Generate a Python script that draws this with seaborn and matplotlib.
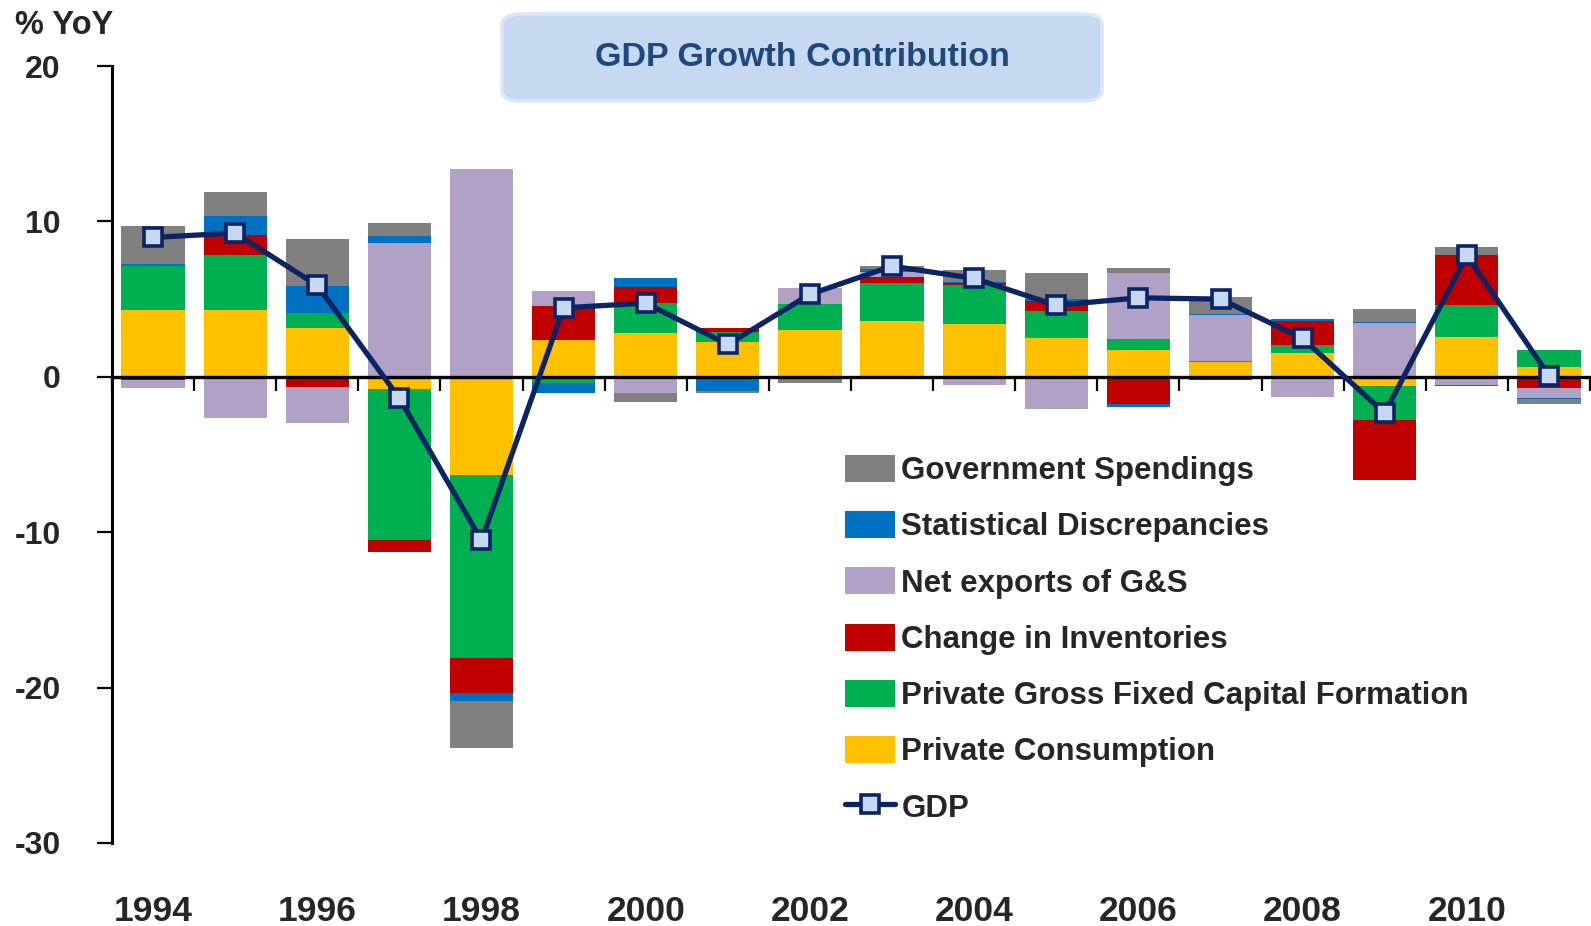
import numpy as np
import pandas as pd
import matplotlib
matplotlib.use("Agg")
import matplotlib.pyplot as plt
from matplotlib.patches import FancyBboxPatch, Patch
from matplotlib.lines import Line2D
import seaborn as sns

# ---- data: contributions to GDP growth, % YoY ----
years = list(range(1994, 2012))
private_consumption = [4.29, 4.29, 3.15, -0.77, -6.29, 2.34, 2.81, 2.23, 3.00, 3.58,
                       3.39, 2.48, 1.72, 0.94, 1.52, -0.62, 2.55, 0.64]
private_gfcf = [2.85, 3.56, 0.95, -9.76, -11.82, -0.43, 1.91, 0.63, 1.70, 2.43,
                2.51, 1.78, 0.71, 0.05, 0.52, -2.19, 2.04, 1.09]
inventories = [-0.21, 1.29, -0.66, -0.73, -2.25, 2.23, 1.07, 0.29, 0.00, 0.41,
               0.11, 0.64, -1.78, -0.19, 1.54, -3.82, 3.26, -0.71]
net_exports = [-0.52, -2.64, -2.30, 8.60, 13.35, 0.97, -1.05, -0.05, 0.99, 0.34,
               -0.53, -2.05, 4.24, 2.96, -1.29, 3.47, -0.51, -0.64]
stat_discrepancy = [0.13, 1.22, 1.76, 0.47, -0.52, -0.64, 0.56, -0.85, 0.05, 0.15,
                    0.10, 0.10, -0.15, 0.07, 0.13, 0.06, -0.05, -0.05]
gov_spending = [2.43, 1.53, 3.02, 0.82, -3.00, 0.00, -0.56, -0.13, -0.40, 0.21,
                0.76, 1.65, 0.35, 1.12, 0.00, 0.81, 0.50, -0.38]
gdp = [8.97, 9.25, 5.88, -1.38, -10.53, 4.44, 4.74, 2.08, 5.31, 7.12,
       6.33, 4.60, 5.08, 5.00, 2.47, -2.34, 7.81, 0.08]

series_names = ["Private Consumption", "Private Gross Fixed Capital Formation",
                "Change in Inventories", "Net exports of G&S",
                "Statistical Discrepancies", "Government Spendings"]
series_values = [private_consumption, private_gfcf, inventories, net_exports,
                 stat_discrepancy, gov_spending]
series_colors = ["#FFC000", "#00B050", "#C00000", "#B2A1C7", "#0070C0", "#808080"]
y_ticks = [20, 10, 0, -10, -20, -30]
x_label_years = years[::2]

sns.set_theme(style="white")
plt.rcParams["font.family"] = ["Liberation Sans", "DejaVu Sans"]
plt.rcParams["font.weight"] = "bold"

fig = plt.figure(figsize=(15.91, 9.26), dpi=100)
ax = fig.add_axes([112 / 1591, 1 - 843 / 926, 1478 / 1591, (843 - 66) / 926])

# stacked contributions: positives and negatives stack away from zero separately
x = np.arange(len(years))
pos_base = np.zeros(len(years))
neg_base = np.zeros(len(years))
for name, vals, col in zip(series_names, series_values, series_colors):
    v = np.asarray(vals, dtype=float)
    bottom = np.where(v >= 0, pos_base, neg_base)
    ax.bar(x, v, width=0.77, bottom=bottom, color=col, linewidth=0, zorder=1)
    pos_base += np.where(v >= 0, v, 0)
    neg_base += np.where(v < 0, v, 0)

gdp_df = pd.DataFrame({"x": x, "GDP": gdp})
sns.lineplot(data=gdp_df, x="x", y="GDP", ax=ax, color="#0C2463", linewidth=3.8,
             marker="s", markersize=13, markerfacecolor="#C6D9F1",
             markeredgecolor="#0C2463", markeredgewidth=2.6, zorder=4)

ax.set_xlim(-0.5, len(years) - 0.5)
ax.set_ylim(-30, 20)
ax.set_xlabel("")
ax.set_ylabel("")

# axis styling
for s in ["top", "right"]:
    ax.spines[s].set_visible(False)
ax.spines["left"].set_linewidth(2.2)
ax.spines["left"].set_color("black")
ax.spines["bottom"].set_position(("data", 0))
ax.spines["bottom"].set_linewidth(2.4)
ax.spines["bottom"].set_color("black")
ax.spines["bottom"].set_zorder(3)

ax.set_yticks(y_ticks)
ax.set_yticklabels([str(t) for t in y_ticks], fontsize=23, fontweight="bold")
ax.tick_params(axis="y", direction="out", length=11, width=1.6, color="black", pad=26,
               left=True)

boundaries = np.arange(len(years) + 1) - 0.5
ax.set_xticks(boundaries)
ax.set_xticklabels([])
ax.tick_params(axis="x", direction="out", length=10, width=1.6, color="black", bottom=True)

# year labels sit below the plot area
sec = ax.secondary_xaxis("bottom")
sec.set_xticks([years.index(y) for y in x_label_years])
sec.set_xticklabels([str(y) for y in x_label_years], fontsize=25.5, fontweight="bold")
sec.tick_params(axis="x", length=0, pad=37.5)
sec.spines["bottom"].set_visible(False)

# legend
handles = [Patch(facecolor=c, edgecolor="none") for c in series_colors][::-1]
labels = series_names[::-1]
handles.append(Line2D([0], [0], color="#0C2463", linewidth=3.8, marker="s", markersize=13,
                      markerfacecolor="#C6D9F1", markeredgecolor="#0C2463",
                      markeredgewidth=2.6))
labels.append("GDP")
fig.legend(handles, labels, loc="upper left", bbox_to_anchor=(845 / 1591, 1 - 455 / 926),
           frameon=False, handlelength=1.6, handleheight=0.95,
           handletextpad=0.2, labelspacing=0.8, borderpad=0, borderaxespad=0,
           prop={"weight": "bold", "size": 22.5})

# unit label
fig.text(15 / 1591, 1 - 25 / 926, "% YoY", fontsize=23.5, fontweight="bold",
         ha="left", va="center")

# title box
box = FancyBboxPatch((502 / 1591, 1 - 101 / 926), 600 / 1591, 87 / 926,
                     boxstyle="round,pad=0,rounding_size=0.012",
                     transform=fig.transFigure, facecolor="#C6D9F1",
                     edgecolor="#DCE6F4", linewidth=2.5, zorder=5)
fig.patches.append(box)
fig.text(802 / 1591, 1 - 57 / 926, "GDP Growth Contribution", fontsize=24.5,
         fontweight="bold", color="#1F497D", ha="center", va="center", zorder=6)

fig.savefig("out.png", dpi=100, facecolor="white")
